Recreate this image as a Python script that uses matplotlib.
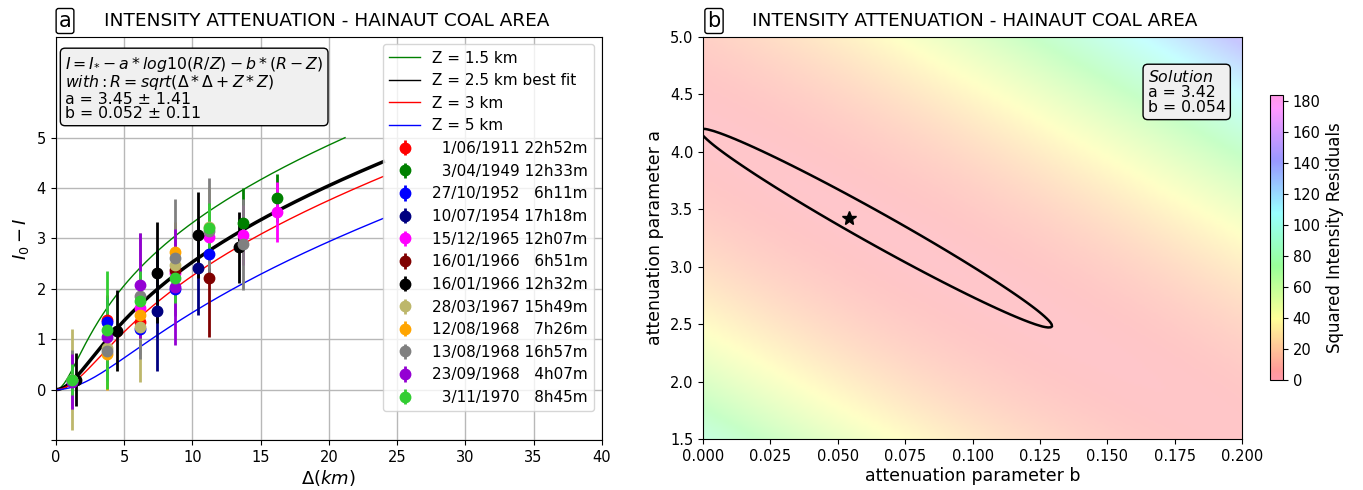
import numpy as np
import matplotlib
matplotlib.use('Agg')
import matplotlib.pyplot as plt
from matplotlib.colors import ListedColormap, Normalize
from matplotlib.lines import Line2D
import matplotlib.cm as cm

# ---------------- data ----------------
event_labels = ['\u20071/06/1911 22h52m', '\u20073/04/1949 12h33m', '27/10/1952 \u20076h11m',
                '10/07/1954 17h18m', '15/12/1965 12h07m', '16/01/1966 \u20076h51m',
                '16/01/1966 12h32m', '28/03/1967 15h49m', '12/08/1968 \u20077h26m',
                '13/08/1968 16h57m', '23/09/1968 \u20074h07m', '\u20073/11/1970 \u20078h45m']
event_colors = ['red', 'green', 'blue', 'navy', 'magenta', 'maroon', 'black',
                'darkkhaki', 'orange', 'gray', 'darkviolet', 'limegreen']

dist_1911 = [3.74, 6.20];                      di_1911 = [1.38, 1.34];                    err_1911 = [0.5, 0.5]
dist_1949 = [13.71, 16.20];                    di_1949 = [3.31, 3.80];                    err_1949 = [0.69, 0.48]
dist_1952 = [3.74, 6.20, 8.72, 11.24];         di_1952 = [1.34, 1.21, 1.99, 2.70];        err_1952 = [0.5, 0.5, 0.5, 0.5]
dist_1954 = [7.45, 10.45];                     di_1954 = [1.56, 2.41];                    err_1954 = [1.2, 0.93]
dist_1965 = [6.20, 8.72, 11.24, 13.71, 16.20]; di_1965 = [1.61, 2.32, 3.03, 3.07, 3.52];  err_1965 = [0.5, 0.6, 0.6, 0.6, 0.59]
dist_1966a = [8.72, 11.24];                    di_1966a = [2.37, 2.21];                   err_1966a = [0.6, 1.16]
dist_1966b = [1.49, 4.47, 7.45, 10.45, 13.46]; di_1966b = [0.20, 1.17, 2.32, 3.07, 2.82]; err_1966b = [0.53, 0.81, 1.0, 0.86, 0.71]
dist_1967 = [1.22, 3.74, 6.20, 8.72, 11.24];   di_1967 = [0.20, 0.82, 1.25, 2.47, 3.22];  err_1967 = [1.0, 0.5, 1.1, 0.8, 0.8]
dist_1968a = [3.74, 6.20, 8.72];               di_1968a = [0.70, 1.48, 2.72];             err_1968a = [0.7, 0.5, 0.6]
dist_1968b = [1.22, 3.74, 6.20, 8.72, 11.24, 13.71]; di_1968b = [0.20, 0.77, 1.86, 2.62, 3.15, 2.88]; err_1968b = [0.58, 0.6, 1.25, 1.16, 1.04, 0.91]
dist_1968c = [1.22, 3.74, 6.20, 8.72];         di_1968c = [0.16, 1.05, 2.07, 2.04];       err_1968c = [0.54, 0.6, 1.04, 1.15]
dist_1970 = [1.22, 3.74, 6.20, 8.72, 11.24];   di_1970 = [0.20, 1.19, 1.76, 2.21, 3.20];  err_1970 = [0.3, 1.17, 0.6, 0.5, 0.5]

event_dist = [dist_1911, dist_1949, dist_1952, dist_1954, dist_1965, dist_1966a,
              dist_1966b, dist_1967, dist_1968a, dist_1968b, dist_1968c, dist_1970]
event_di = [di_1911, di_1949, di_1952, di_1954, di_1965, di_1966a,
            di_1966b, di_1967, di_1968a, di_1968b, di_1968c, di_1970]
event_err = [err_1911, err_1949, err_1952, err_1954, err_1965, err_1966a,
             err_1966b, err_1967, err_1968a, err_1968b, err_1968c, err_1970]

fit_a, fit_a_err = 3.45, 1.41
fit_b, fit_b_err = 0.052, 0.11
depths = [1.5, 2.5, 3, 5]
depth_labels = ['Z = 1.5 km', 'Z = 2.5 km best fit', 'Z = 3 km', 'Z = 5 km']
depth_colors = ['green', 'black', 'red', 'blue']
best_depth = 2.5
sol_a, sol_b = 3.42, 0.054
residual_range = (0, 184)

title = 'INTENSITY ATTENUATION - HAINAUT COAL AREA'

# ---------------- figure ----------------
fig = plt.figure(figsize=(13.63, 4.90), dpi=100)
ax1 = fig.add_axes([0.0409, 0.1020, 0.4006, 0.823])
ax2 = fig.add_axes([0.5158, 0.1040, 0.3955, 0.821])
cax = fig.add_axes([0.9318, 0.2245, 0.0095, 0.5816])

# left panel
delta = np.linspace(0, 24, 300)
line_handles = []
for Z, lab, col in zip(depths, depth_labels, depth_colors):
    R = np.sqrt(delta * delta + Z * Z)
    y = fit_a * np.log10(R / Z) + fit_b * (R - Z)
    y = np.where(y <= 5.0, y, np.nan)
    lw = 2.5 if Z == best_depth else 1.0
    ax1.plot(delta, y, color=col, lw=lw, zorder=2)
    line_handles.append(Line2D([], [], color=col, lw=1.0, label=lab))

eb_handles = []
for d, v, e, c, lab in zip(event_dist, event_di, event_err, event_colors, event_labels):
    h = ax1.errorbar(d, v, yerr=e, fmt='o', color=c, ms=7.5, elinewidth=2,
                     capsize=0, label=lab, zorder=3)
    eb_handles.append(h)

ax1.set_xlim(0, 40)
ax1.set_ylim(-1, 7)
ax1.set_xticks(np.arange(0, 41, 5))
ax1.set_yticks(np.arange(-1, 6, 1))
ax1.set_yticklabels([''] + [str(i) for i in range(0, 6)])
ax1.tick_params(labelsize=10.5)
ax1.grid(True, color='#b8b8b8', lw=1.0)
ax1.set_axisbelow(True)
ax1.set_xlabel(r'$\Delta(km)$', fontsize=13, labelpad=2)
ax1.set_ylabel(r'$I_0 - I$', fontsize=13, labelpad=4)
ax1.legend(handles=line_handles + eb_handles, loc='upper right', fontsize=11,
           labelspacing=0.5, handlelength=2.0, borderaxespad=0.5, framealpha=0.8)

box_txt = (r'$I = I_{*} - a*log10(R/Z) - b*(R-Z)$' + '\n' +
           r'$with: R = sqrt(\Delta*\Delta + Z*Z)$' + '\n' +
           'a = %.2f \u00b1 %.2f' % (fit_a, fit_a_err) + '\n' +
           'b = %.3f \u00b1 %.2f' % (fit_b, fit_b_err))
ax1.text(0.017, 0.955, box_txt, transform=ax1.transAxes, va='top', ha='left',
         fontsize=11.3, linespacing=0.95,
         bbox=dict(boxstyle='round,pad=0.3', fc='#f0f0f0', ec='black'), zorder=5)

# right panel : squared residual surface
all_d = np.concatenate([np.asarray(x, float) for x in event_dist])
all_v = np.concatenate([np.asarray(x, float) for x in event_di])
Rb = np.sqrt(all_d ** 2 + best_depth ** 2)
g1 = np.log10(Rb / best_depth)
g2 = Rb - best_depth
b_axis = np.linspace(0, 0.2, 201)
a_axis = np.linspace(1.5, 5.0, 201)
B, A = np.meshgrid(b_axis, a_axis)
Q = ((all_v[None, None, :] - A[..., None] * g1 - B[..., None] * g2) ** 2).sum(axis=-1)

def blend(cmap, alpha):
    c = cmap(np.linspace(0, 1, 256))[:, :3]
    return ListedColormap(alpha * c + (1 - alpha))

base = plt.get_cmap('gist_rainbow')
norm = Normalize(*residual_range)
ax2.imshow(Q, extent=[0, 0.2, 1.5, 5.0], origin='lower', aspect='auto',
           cmap=blend(base, 0.22), norm=norm, interpolation='bilinear')
lvl = Q.min() + 0.3
ax2.contour(B, A, Q, levels=[lvl], colors='k', linewidths=1.8)
ax2.plot(sol_b, sol_a, marker='*', color='k', ms=10, ls='none')
ax2.set_xlim(0, 0.2)
ax2.set_ylim(1.5, 5.0)
ax2.set_xticks(np.arange(0, 0.2001, 0.025))
ax2.set_yticks(np.arange(1.5, 5.01, 0.5))
ax2.tick_params(labelsize=10.5)
ax2.set_xlabel('attenuation parameter b', fontsize=12.5, labelpad=2)
ax2.set_ylabel('attenuation parameter a', fontsize=12.5)
ax2.text(0.825, 0.92, r'$\it{Solution}$' + '\na = %.2f\nb = %.3f' % (sol_a, sol_b),
         transform=ax2.transAxes, va='top', ha='left', fontsize=11.3, linespacing=1.0,
         bbox=dict(boxstyle='round,pad=0.3', fc='#f0f0f0', ec='black'))

sm = cm.ScalarMappable(norm=norm, cmap=blend(base, 0.4))
cb = fig.colorbar(sm, cax=cax)
cb.set_ticks(np.arange(0, 181, 20))
cb.ax.tick_params(labelsize=10.5)
cb.set_label('Squared Intensity Residuals', fontsize=12)

# titles and panel tags
for xt, xl, tag in [(104, 65, 'a'), (752, 714, 'b')]:
    fig.text(xt / 1363, 1 - 21.5 / 490, title, ha='left', va='center', fontsize=13.3)
    fig.text(xl / 1363, 1 - 21 / 490, tag, ha='center', va='center', fontsize=15,
             bbox=dict(boxstyle='round,pad=0.12', fc='white', ec='black'))

fig.savefig('out.png', dpi=100)
